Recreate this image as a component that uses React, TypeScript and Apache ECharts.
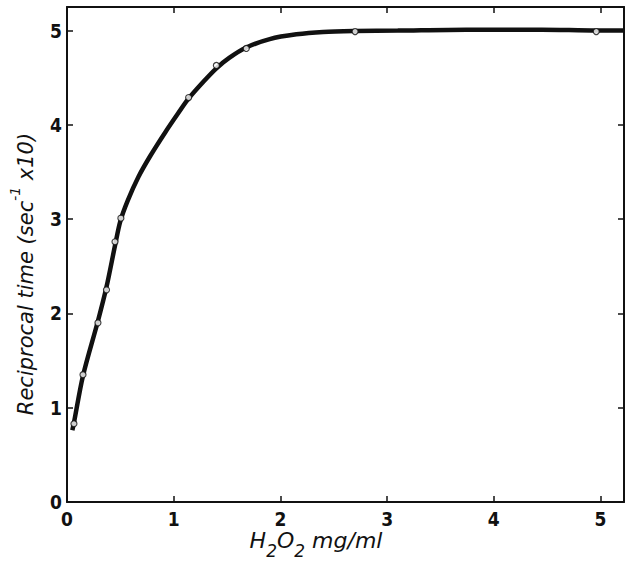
import React, { useEffect, useRef } from "react";
import * as echarts from "echarts";

const curveX = [0.05, 0.065, 0.15, 0.29, 0.37, 0.45, 0.5, 0.57, 0.67, 0.78, 0.92, 1.04, 1.14, 1.28, 1.4, 1.52, 1.68, 1.9, 2.15, 2.4, 2.7, 3.1, 3.74, 4.45, 4.96, 5.22];
const curveY = [0.76, 0.84, 1.34, 1.92, 2.28, 2.72, 2.98, 3.2, 3.45, 3.67, 3.92, 4.12, 4.28, 4.46, 4.6, 4.71, 4.82, 4.91, 4.96, 4.985, 4.995, 5.0, 5.01, 5.01, 5.0, 5.0];

const pointX = [0.065, 0.15, 0.29, 0.37, 0.45, 0.505, 1.14, 1.4, 1.68, 2.7, 4.96];
const pointY = [0.83, 1.35, 1.9, 2.25, 2.76, 3.01, 4.29, 4.63, 4.81, 4.99, 4.99];

const xMax = 5.22;
const yMax = 5.25;

export default function App() {
  const ref = useRef<HTMLDivElement>(null);
  useEffect(() => {
    if (!ref.current) return;
    const chart = echarts.init(ref.current, null, { renderer: "svg" });
    const ink = "#111";
    const tickFont = {
      fontFamily: "'DejaVu Sans Condensed', 'Liberation Sans Narrow', 'Liberation Sans', sans-serif",
      fontWeight: "bold" as const,
      fontSize: 19,
      color: ink,
    };
    const titleFont = "'DejaVu Sans', sans-serif";
    const intFmt = (v: number) => (Math.abs(v - Math.round(v)) < 1e-9 ? String(Math.round(v)) : "");
    const axisCommon = {
      type: "value" as const,
      interval: 1,
      splitLine: { show: false },
      axisLine: { show: true, onZero: false, lineStyle: { color: ink, width: 2 } },
      axisTick: { show: true, inside: true, length: 6, lineStyle: { color: ink, width: 1.5 } },
    };
    chart.setOption({
      animation: false,
      backgroundColor: "#fff",
      grid: { left: 67, right: 1, top: 7, bottom: 67, containLabel: false, outerBoundsMode: "none" },
      xAxis: [
        {
          ...axisCommon,
          min: 0,
          max: xMax,
          position: "bottom",
          axisLabel: { ...tickFont, formatter: intFmt, margin: 7, showMaxLabel: false },
        },
        { ...axisCommon, min: 0, max: xMax, position: "top", axisLabel: { show: false } },
      ],
      yAxis: [
        {
          ...axisCommon,
          min: 0,
          max: yMax,
          position: "left",
          axisLabel: { ...tickFont, formatter: intFmt, margin: 5, showMaxLabel: false },
        },
        { ...axisCommon, min: 0, max: yMax, position: "right", axisLabel: { show: false } },
      ],
      graphic: [
        {
          type: "text",
          x: 22,
          y: 274,
          rotation: Math.PI / 2,
          style: {
            text: "{a|Reciprocal time (sec}{s|-1}{a| x10)}",
            align: "center",
            verticalAlign: "middle",
            rich: {
              a: { fontFamily: titleFont, fontStyle: "italic", fontSize: 21, fill: ink, verticalAlign: "bottom", lineHeight: 28 },
              s: { fontFamily: titleFont, fontStyle: "italic", fontSize: 14, fill: ink, verticalAlign: "top", lineHeight: 28 },
            },
          },
        },
        {
          type: "text",
          x: 316,
          y: 544,
          style: {
            text: "{a|H}{s|2}{a|O}{s|2}{a| mg/ml}",
            align: "center",
            verticalAlign: "middle",
            rich: {
              a: { fontFamily: titleFont, fontStyle: "italic", fontSize: 22, fill: ink, verticalAlign: "top", lineHeight: 30 },
              s: { fontFamily: titleFont, fontStyle: "italic", fontSize: 17, fill: ink, verticalAlign: "bottom", lineHeight: 30 },
            },
          },
        },
      ],
      series: [
        {
          type: "line",
          data: curveX.map((x, i) => [x, curveY[i]]),
          smooth: 0.3,
          showSymbol: false,
          lineStyle: { color: ink, width: 4.5 },
          z: 2,
        },
        {
          type: "scatter",
          data: pointX.map((x, i) => [x, pointY[i]]),
          symbol: "circle",
          symbolSize: 6,
          itemStyle: { color: "#fff", borderColor: ink, borderWidth: 1.2 },
          z: 3,
        },
      ],
    });
    return () => chart.dispose();
  }, []);
  return <div ref={ref} style={{ position: "fixed", left: 0, top: 0, width: 625, height: 569 }} />;
}
